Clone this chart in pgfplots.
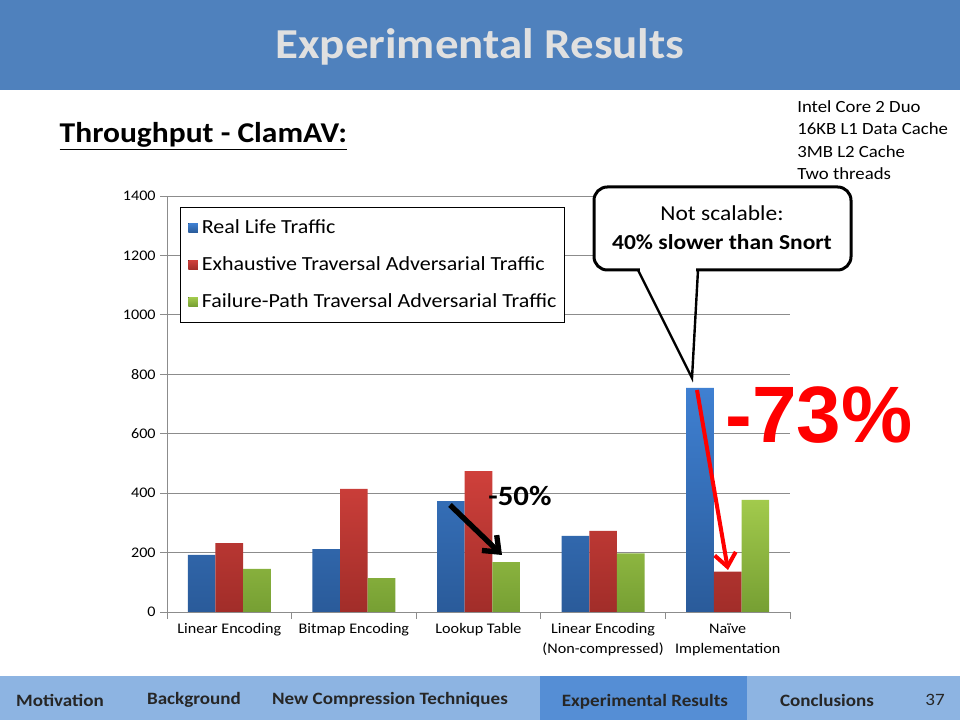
\documentclass[border=0pt]{standalone}
\usepackage{pgfplots}
\pgfplotsset{compat=1.18}
\usepackage{fontspec}
\setmainfont{Carlito}[FakeStretch=1.1]
\newfontfamily\arialfont{Liberation Sans}
\usetikzlibrary{arrows.meta}
\definecolor{titlebar}{HTML}{4F81BD}
\definecolor{navbar}{HTML}{8DB4E2}
\definecolor{navsel}{HTML}{558ED5}
\definecolor{bluetop}{HTML}{3F80D2}
\definecolor{bluebot}{HTML}{2A5B9A}
\definecolor{redtop}{HTML}{CF403B}
\definecolor{redbot}{HTML}{A12D29}
\definecolor{greentop}{HTML}{A2CA4C}
\definecolor{greenbot}{HTML}{769F33}
\begin{document}
\begin{tikzpicture}[x=0.75pt,y=0.75pt]
\fill[white] (0,0) rectangle (960,720);
\fill[titlebar] (0,630) rectangle (960,720);
\node[text=black!12, font=\fontsize{32}{38}\selectfont\bfseries] at (480,673) {Experimental Results};
\fill[navbar] (0,0) rectangle (960,44);
\fill[navsel] (540,0) rectangle (747,44);
\begin{scope}[every node/.style={text=black!85, font=\fontsize{13}{15}\selectfont\bfseries}]
\node at (60,20) {Motivation};
\node at (194,20) {Background};
\node at (390,20) {New Compression Techniques};
\node at (645,18) {Experimental Results};
\node at (827,20) {Conclusions};
\node[font=\fontsize{13}{15}\selectfont] at (935,20) {37};
\end{scope}
\node[anchor=west, font=\fontsize{21.5}{26}\selectfont\bfseries] at (55,584) {\underline{Throughput - ClamAV:}};
\node[anchor=north west, align=left, font=\fontsize{12.8}{16.9}\selectfont, inner sep=0pt] at (797,620) {Intel Core 2 Duo\\16KB L1 Data Cache\\3MB L2 Cache\\Two threads};
\begin{axis}[
  at={(125.25pt,81pt)}, anchor=south west, scale only axis,
  width=467.25pt, height=312pt,
  xmin=-0.5, xmax=4.5, ymin=0, ymax=1400,
  ybar, bar width=0.222,
  ytick={0,200,...,1400},
  ymajorgrids, grid style={black!45, line width=0.6pt},
  axis x line=bottom, axis y line=left,
  axis line style={-, black!45, line width=0.6pt},
  tick align=outside,
  xtick={0,1,2,3,4},
  xticklabels={Linear Encoding, Bitmap Encoding, Lookup Table, {Linear Encoding\\(Non-compressed)}, {Na\"ive\\Implementation}},
  xticklabel style={align=center, font=\fontsize{11}{15}\selectfont},
  yticklabel style={font=\fontsize{11}{13}\selectfont},
  /pgf/number format/assume math mode=true,
  /pgf/number format/1000 sep={},
  major x tick style={draw=none},
  minor xtick={-0.5,0.5,1.5,2.5,3.5,4.5},
  minor x tick style={black!45, line width=0.6pt},
  minor tick length=5pt,
  major tick length=5pt,
  y tick style={black!45, line width=0.6pt},
  legend style={at={(rel axis cs:0.021,0.974)}, anchor=north west, draw=black, line width=0.6pt,
    font=\fontsize{15}{17}\selectfont, row sep=11.8pt, inner xsep=4pt, inner ysep=7.5pt},
  legend cell align=left,
  legend image code/.code={\fill[#1] (2pt,-3.4pt) rectangle (9pt,3.4pt); \path (0pt,0pt) (10pt,0pt);},
]
\addplot[draw=none, bar shift=-0.222, top color=bluetop, bottom color=bluebot] coordinates {(0,192) (1,212) (2,373) (3,256) (4,754)};
\addplot[draw=none, bar shift=0, top color=redtop, bottom color=redbot] coordinates {(0,232) (1,414) (2,474) (3,273) (4,136)};
\addplot[draw=none, bar shift=0.222, top color=greentop, bottom color=greenbot] coordinates {(0,145) (1,114) (2,168) (3,197) (4,377)};
\legend{Real Life Traffic, Exhaustive Traversal Adversarial Traffic, Failure-Path Traversal Adversarial Traffic}
\end{axis}
% callout
\draw[line width=2.25pt, fill=white, rounded corners=10] (594,450) rectangle (851,533);
\fill[white] (640,446) rectangle (696,454);
\draw[line width=1.8pt] (638,450) -- (692,342) -- (698,450);
\node[font=\fontsize{16}{19}\selectfont] at (722,507) {Not scalable:};
\node[font=\fontsize{16}{19}\selectfont\bfseries] at (722,478) {40\% slower than Snort};
% -50%
\node[font=\fontsize{21}{25}\selectfont\bfseries] at (520,224) {-50\%};
\draw[line width=4pt, -{Straight Barb[length=10pt, width=16pt, line width=4pt]}] (450,215) -- (502,165);
% red arrow
\draw[red, line width=3pt, -{Straight Barb[length=10pt, width=16pt, line width=3pt]}] (697,330) -- (728,150);
% -73%
\node[text=red, font=\arialfont\fontsize{60}{70}\selectfont\bfseries] at (819,305) {-73\%};
\end{tikzpicture}
\end{document}
